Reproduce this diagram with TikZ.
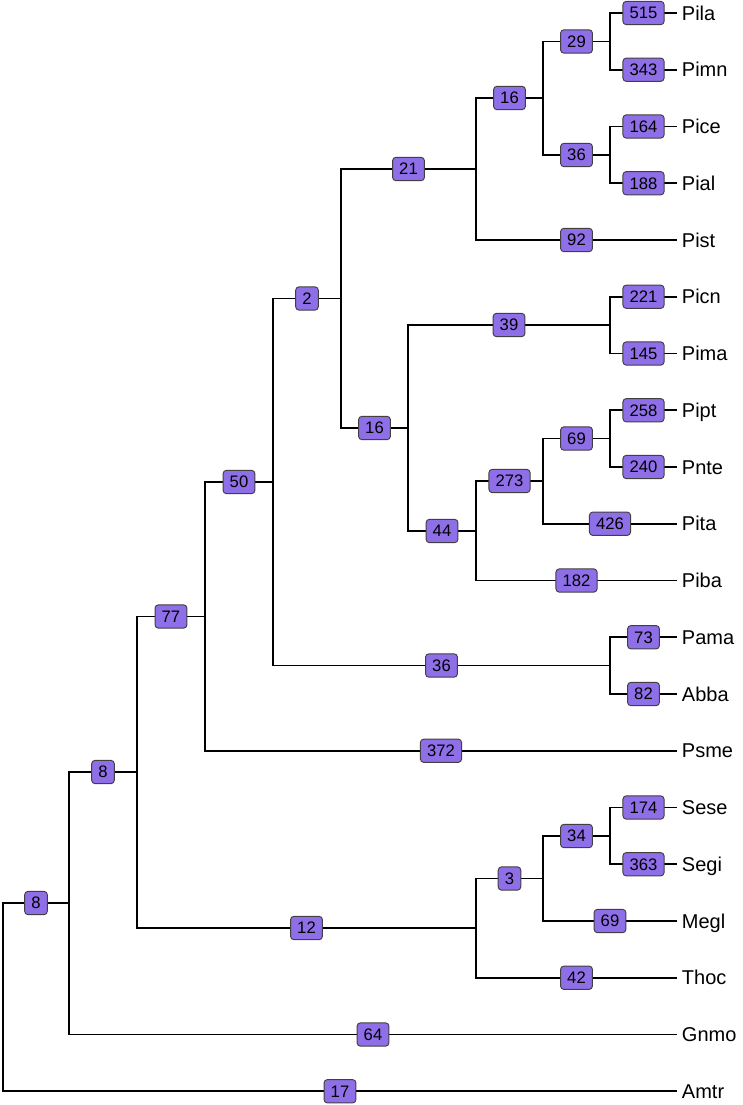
\documentclass[tikz,border=0pt]{standalone}
\usepackage{fontspec}
\setmainfont{Liberation Sans}
\definecolor{boxpurple}{RGB}{142,111,231}

\begin{document}
\begin{tikzpicture}[x=0.75pt,y=-0.75pt,
  branch/.style={line width=1.4pt,line join=miter},
  supp/.style={pos=0.75,draw=black!75,fill=boxpurple,rounded corners=2.5pt,line width=0.7pt,
    font=\fontsize{12.5}{14}\selectfont,inner xsep=5pt,inner ysep=4.3pt,text height=8.9pt,text depth=0pt},
  taxon/.style={anchor=west,inner xsep=3.5pt,inner ysep=2pt,font=\fontsize{15}{17}\selectfont,text height=10.7pt,text depth=0pt}]
\useasboundingbox (0,0) rectangle (742,1105);
\newcommand{\tipx}{677}
\newcommand{\tipy}{13}
\newcommand{\tipdy}{56.75}

\foreach \tname [count=\i from 0] in {Pila,Pimn,Pice,Pial,Pist,Picn,Pima,Pipt,Pnte,Pita,Piba,Pama,Abba,Psme,Sese,Segi,Megl,Thoc,Gnmo,Amtr}
  \coordinate (\tname) at (\tipx,{\tipy+\tipdy*\i});

\coordinate (root) at (3,997);
\coordinate (nA) at (69,903);
\coordinate (nB) at (137,772);
\coordinate (nC) at (205,616.5);
\coordinate (nD) at (273,482);
\coordinate (nE) at (341,298.5);
\coordinate (nF) at (476,169);
\coordinate (nG) at (543,98);
\coordinate (nH) at (610,41.5);
\coordinate (nI) at (610,155);
\coordinate (nJ) at (408,428);
\coordinate (nK) at (610,325);
\coordinate (nL) at (476,531);
\coordinate (nM) at (543,481);
\coordinate (nN) at (610,438.5);
\coordinate (nO) at (610,665.5);
\coordinate (nP) at (476,928);
\coordinate (nQ) at (543,878.5);
\coordinate (nR) at (610,836);

\foreach \pnode/\val/\cnode in {root/8/nA,root/17/Amtr,nA/8/nB,nA/64/Gnmo,nB/77/nC,nB/12/nP,
    nC/50/nD,nC/372/Psme,nD/2/nE,nD/36/nO,nE/21/nF,nE/16/nJ,nF/16/nG,nF/92/Pist,
    nG/29/nH,nG/36/nI,nH/515/Pila,nH/343/Pimn,nI/164/Pice,nI/188/Pial,
    nJ/39/nK,nJ/44/nL,nK/221/Picn,nK/145/Pima,nL/273/nM,nL/182/Piba,
    nM/69/nN,nM/426/Pita,nN/258/Pipt,nN/240/Pnte,nO/73/Pama,nO/82/Abba,
    nP/3/nQ,nP/42/Thoc,nQ/34/nR,nQ/69/Megl,nR/174/Sese,nR/363/Segi}
  \draw [branch] (\pnode) |- node[supp] (s\cnode) {\val} (\cnode);

\foreach \tname in {Pila,Pimn,Pice,Pial,Pist,Picn,Pima,Pipt,Pnte,Pita,Piba,Pama,Abba,Psme,Sese,Segi,Megl,Thoc,Gnmo,Amtr}
  \node [taxon] (t\tname) at (\tname) {\tname};
\end{tikzpicture}
\end{document}
